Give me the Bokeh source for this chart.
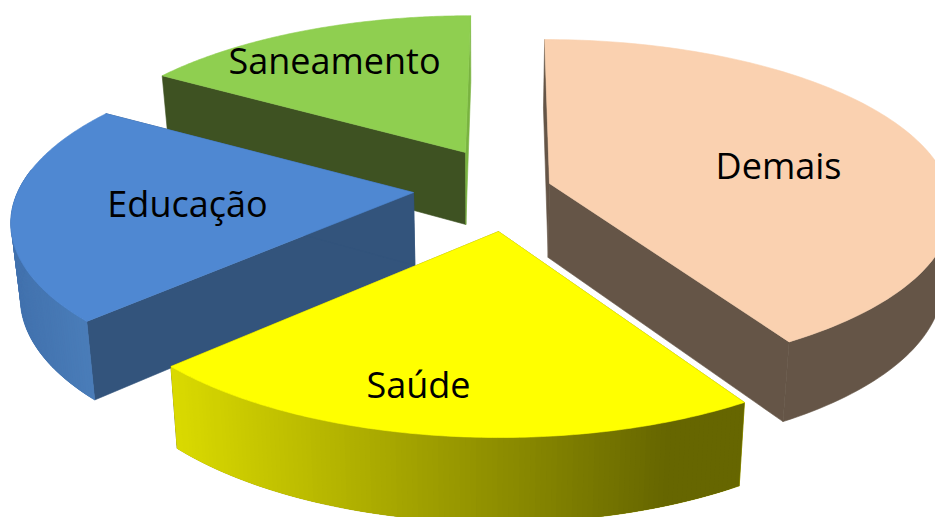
import math
from bokeh.plotting import figure
from bokeh.models import Range1d
from bokeh.core.properties import value
from bokeh.embed import file_html
from bokeh.resources import INLINE

# --- data ---
categories = ["Demais", "Saúde", "Educação", "Saneamento"]
shares = [41.3, 21.45, 21.0, 16.25]

# --- style ---
top_colors = ["#fad1b0", "#ffff00", "#4f88d2", "#8fcf50"]
start_colors = ["#655547", "#808000", "#33547c", "#3e5222"]
end_colors = ["#655547", "#808000", "#33547c", "#79b340"]
rim_left = ["#655547", "#d9d900", "#4272ae", "#79b340"]
rim_right = ["#655547", "#666600", "#4a7db9", "#79b340"]
rim_x = [(600, 900), (176, 660), (20, 90), (160, 470)]

# --- layout of the projected pie (pixel frame of the window) ---
CX, SINK = 483.0, 0.98
radius_x = [398.0, 403.0, 396.0, 391.0]
radius_y = [163.7, 171.0, 164.0, 160.0]
depth = [0.137, 0.17, 0.165, 0.17]
lean = [40.0, 5.0, -42.0, -35.0]
thick = [74.0, 76.0, 73.0, 72.0]
apex_x = [549, 498, 413, 465]
apex_y = [183, 231, 192, 152]
label_x = [778, 418, 187, 334]
label_y = [165, 384, 203, 60]
draw_order = [3, 0, 2, 1]
RIM_LIMIT = 0.15


def hex_mix(a, b, t):
    t = max(0.0, min(1.0, t))
    ca = [int(a[i:i + 2], 16) for i in (1, 3, 5)]
    cb = [int(b[i:i + 2], 16) for i in (1, 3, 5)]
    return "#%02x%02x%02x" % tuple(round(u + (v - u) * t) for u, v in zip(ca, cb))


def top_point(i, theta):
    X, Y = math.cos(theta), math.sin(theta)
    s = 1.0 / (1.0 + depth[i] * Y)
    x = apex_x[i] + lean[i] * (s - 1.0) + radius_x[i] * X * s
    y = apex_y[i] - radius_y[i] * Y * s
    return x, y, s


def bottom_of(i, x, y, s):
    return CX + (x - CX) * SINK, y + thick[i] * s ** 0.6


spans = []
angle = math.pi / 2
for sh in shares:
    sweep = sh / sum(shares) * 2 * math.pi
    spans.append((angle, angle - sweep))
    angle -= sweep

xs, ys, fills, lines = [], [], [], []


def add(px, py, c, outline=True):
    xs.append(px)
    ys.append(py)
    fills.append(c)
    lines.append(c if outline else None)


for i in draw_order:
    a0, a1 = spans[i]
    n = 120
    thetas = [a0 + (a1 - a0) * k / n for k in range(n + 1)]
    pts = [top_point(i, t) for t in thetas]
    bots = [bottom_of(i, *q) for q in pts]
    ax, ay = apex_x[i], apex_y[i]
    bax, bay = bottom_of(i, ax, ay, 1.0)
    # cut walls first: they lie behind the rim and the top face
    add([ax, pts[0][0], bots[0][0], bax], [ay, pts[0][1], bots[0][1], bay], start_colors[i])
    add([ax, pts[-1][0], bots[-1][0], bax], [ay, pts[-1][1], bots[-1][1], bay], end_colors[i])
    # rim, front-facing part only: one solid band, then overlapping strips
    front = [k for k in range(n + 1) if math.sin(thetas[k]) <= RIM_LIMIT]
    if len(front) > 1:
        tp = [pts[k] for k in front]
        bp = [bots[k] for k in front]
        add([q[0] for q in tp] + [q[0] for q in reversed(bp)],
            [q[1] for q in tp] + [q[1] for q in reversed(bp)],
            hex_mix(rim_left[i], rim_right[i], 0.5))
        if rim_left[i] != rim_right[i]:
            for j in range(len(front) - 1):
                e = min(j + 3, len(front) - 1)
                px = [tp[j][0], tp[e][0], bp[e][0], bp[j][0]]
                py = [tp[j][1], tp[e][1], bp[e][1], bp[j][1]]
                t = (sum(px) / 4 - rim_x[i][0]) / (rim_x[i][1] - rim_x[i][0])
                add(px, py, hex_mix(rim_left[i], rim_right[i], t), outline=False)
    # top face
    add([ax] + [q[0] for q in pts], [ay] + [q[1] for q in pts], top_colors[i])

p = figure(width=935, height=517, output_backend="svg", toolbar_location=None,
           x_range=Range1d(0, 935), y_range=Range1d(517, 0),
           min_border=0, outline_line_color=None, background_fill_color="white")
p.axis.visible = False
p.grid.visible = False
p.patches(xs, ys, fill_color=fills, line_color=lines, line_width=0.6)
p.text(label_x, label_y, text=categories, text_font=value("Open Sans"),
       text_font_size="36px", text_color="#000000", text_align="center",
       text_baseline="middle")

open("out.html", "w").write(file_html(p, INLINE))
